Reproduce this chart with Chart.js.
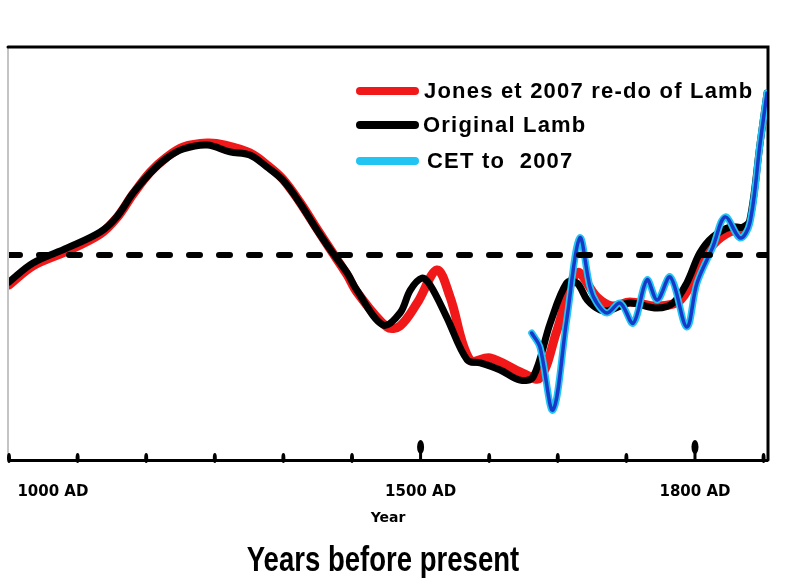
<!DOCTYPE html>
<html>
<head>
<meta charset="utf-8">
<script src="https://cdn.jsdelivr.net/npm/chart.js@4.4.1/dist/chart.umd.min.js"></script>
<style>
  html, body { margin: 0; padding: 0; background: #fff; }
</style>
</head>
<body>
<canvas id="chart" width="800" height="587"></canvas>
<script>
// x is measured in axis tick steps (0..11), y is a relative temperature level
const lambX = [0, 0.35, 0.85, 1.33, 1.57, 1.81, 2.06, 2.30, 2.54, 2.89, 3.22, 3.51, 3.76, 3.99, 4.24, 4.49, 4.72, 4.93, 5.07, 5.45,
    5.70, 5.85, 6.02, 6.14, 6.38, 6.68, 6.87, 7.16, 7.45, 7.64, 7.89, 8.13, 8.28, 8.43, 8.62, 8.76, 9.05, 9.45, 9.68, 9.88,
    10.07, 10.26, 10.51, 10.70, 10.80, 10.95, 11.05];
const lambY = [-0.138, -0.046, 0.027, 0.104, 0.177, 0.293, 0.390, 0.462, 0.506, 0.525, 0.492, 0.477, 0.419, 0.356, 0.245, 0.114, 0.002, -0.094, -0.177, -0.346,
    -0.288, -0.177, -0.119, -0.153, -0.308, -0.516, -0.530, -0.564, -0.613, -0.598, -0.337, -0.143, -0.143, -0.225, -0.274, -0.274, -0.240, -0.264, -0.240, -0.143,
    0.002, 0.080, 0.128, 0.128, 0.162, 0.535, 0.777];

const jonesX = [0, 0.35, 0.85, 1.33, 1.57, 1.81, 2.06, 2.30, 2.54, 2.89, 3.15, 3.51, 3.76, 3.99, 4.24, 4.49, 4.72, 4.93, 5.07, 5.51,
    5.70, 5.95, 6.24, 6.43, 6.72, 7.01, 7.49, 7.74, 7.99, 8.28, 8.57, 8.79, 9.05, 9.45, 9.79, 10.07, 10.26, 10.51, 10.73];
const jonesY = [-0.153, -0.060, 0.012, 0.094, 0.172, 0.288, 0.395, 0.467, 0.516, 0.535, 0.525, 0.487, 0.429, 0.361, 0.249, 0.119, 0.002, -0.104, -0.186, -0.356,
    -0.351, -0.240, -0.080, -0.211, -0.516, -0.506, -0.579, -0.603, -0.370, -0.094, -0.211, -0.254, -0.235, -0.254, -0.225, -0.056, 0.041, 0.104, 0.114];

const cetX = [7.62, 7.74, 7.93, 8.13, 8.32, 8.47, 8.57, 8.72, 8.91, 9.10, 9.30, 9.45, 9.64, 9.88, 10.03, 10.26, 10.44, 10.66, 10.80, 10.95, 11.05];
const cetY = [-0.385, -0.453, -0.758, -0.322, 0.075, -0.162, -0.240, -0.288, -0.240, -0.337, -0.128, -0.225, -0.114, -0.356, -0.143, 0.031, 0.177, 0.075, 0.148, 0.535, 0.777];

const refLevel = -0.007;
const tickLabels = ['1000 AD', '1500 AD', '1800 AD'];
const tickLabelPos = [0.64, 6, 10];
const minorTicks = [0, 1, 2, 3, 4, 5, 7, 8, 9, 11];
const majorTicks = [6, 10];
const legendLabels = ['Jones et 2007 re-do of Lamb', 'Original Lamb', 'CET to  2007'];
const bottomTitle = 'Years before present';

const RED = '#f01818';
const BLACK = '#000000';
const CYAN = '#22c4f2';
const BLUE = '#1838c8';

const pts = (xs, ys) => xs.map((x, i) => ({ x, y: ys[i] }));

const framePlugin = {
    id: 'frame',
    beforeDatasetsDraw(chart) {
        const { ctx, chartArea: a } = chart;
        ctx.save();
        ctx.strokeStyle = '#b0b0b0';
        ctx.lineWidth = 1.5;
        ctx.beginPath();
        ctx.moveTo(a.left - 1, a.top);
        ctx.lineTo(a.left - 1, a.bottom);
        ctx.stroke();
        ctx.strokeStyle = '#000';
        ctx.lineWidth = 3;
        ctx.lineCap = 'round';
        ctx.beginPath();
        ctx.moveTo(a.left - 1, a.top);
        ctx.lineTo(a.right + 1, a.top);
        ctx.lineTo(a.right + 1, a.bottom);
        ctx.stroke();
        ctx.restore();
    },
    afterDraw(chart) {
        const { ctx, chartArea: a } = chart;
        const xs = chart.scales.x;
        ctx.save();
        ctx.fillStyle = '#000';
        minorTicks.forEach(t => {
            const px = xs.getPixelForValue(t);
            ctx.beginPath();
            ctx.ellipse(px, a.bottom - 2, 2, 5, 0, 0, Math.PI * 2);
            ctx.fill();
        });
        majorTicks.forEach(t => {
            const px = xs.getPixelForValue(t);
            ctx.beginPath();
            ctx.ellipse(px, a.bottom - 13, 3.5, 7, 0, 0, Math.PI * 2);
            ctx.fill();
            ctx.fillRect(px - 1.5, a.bottom - 14, 3, 14);
        });
        // big caption under the axis, drawn narrow like the original
        ctx.font = 'bold 34px "Liberation Sans", Arial, sans-serif';
        ctx.textAlign = 'center';
        ctx.textBaseline = 'middle';
        ctx.translate(383, 561);
        ctx.scale(0.81, 1.05);
        ctx.fillText(bottomTitle, 0, 0);
        ctx.restore();
    }
};

const legendPlugin = {
    id: 'sideLegend',
    afterDraw(chart) {
        const { ctx } = chart;
        const colors = [RED, BLACK, CYAN];
        const rows = [91, 125, 161];
        const textX = [424, 423, 427];
        ctx.save();
        ctx.lineCap = 'round';
        ctx.lineWidth = 8;
        ctx.font = 'bold 22px "Liberation Sans", Arial, sans-serif';
        ctx.textBaseline = 'middle';
        ctx.letterSpacing = '1.2px';
        legendLabels.forEach((label, i) => {
            ctx.strokeStyle = colors[i];
            ctx.beginPath();
            ctx.moveTo(360, rows[i]);
            ctx.lineTo(415, rows[i]);
            ctx.stroke();
            ctx.fillStyle = '#000';
            ctx.fillText(label, textX[i], rows[i] + 1);
        });
        ctx.restore();
    }
};

const lineBase = { fill: false, pointRadius: 0, tension: 0.35, borderJoinStyle: 'round', borderCapStyle: 'round' };

new Chart(document.getElementById('chart'), {
    type: 'line',
    data: {
        datasets: [
            { ...lineBase, label: legendLabels[0], data: pts(jonesX, jonesY), borderColor: RED, borderWidth: 9, order: 5 },
            { ...lineBase, label: legendLabels[1], data: pts(lambX, lambY), borderColor: BLACK, borderWidth: 7, order: 4 },
            { ...lineBase, label: 'cet-glow', data: pts(cetX, cetY), borderColor: CYAN, borderWidth: 7, order: 3 },
            { ...lineBase, label: legendLabels[2], data: pts(cetX, cetY), borderColor: BLUE, borderWidth: 3.5, order: 2 },
            { label: 'reference', data: [{ x: 0, y: refLevel }, { x: 11.05, y: refLevel }], borderColor: BLACK,
              borderWidth: 6, borderDash: [11, 19], borderCapStyle: 'round', pointRadius: 0, tension: 0, order: 1 }
        ]
    },
    options: {
        responsive: false,
        animation: false,
        layout: { padding: { left: 9, right: 33, top: 47, bottom: 59 } },
        plugins: {
            legend: { display: false },
            tooltip: { enabled: false }
        },
        scales: {
            x: {
                type: 'linear',
                min: 0,
                max: 11.05,
                border: { display: true, color: '#000', width: 3 },
                grid: { display: false, drawTicks: false },
                afterBuildTicks: axis => { axis.ticks = tickLabelPos.map(v => ({ value: v })); },
                afterFit: axis => {
                    axis.height = 68;
                    axis.paddingLeft = 0;
                    axis.paddingRight = 0;
                },
                ticks: {
                    autoSkip: false,
                    maxRotation: 0,
                    padding: 23,
                    color: '#000',
                    font: { family: '"DejaVu Sans", sans-serif', weight: 'bold', size: 15 },
                    callback: (v, i) => tickLabels[i]
                },
                title: {
                    display: true,
                    text: 'Year',
                    color: '#000',
                    font: { family: '"DejaVu Sans", sans-serif', weight: 'bold', size: 14 },
                    padding: { top: 0, bottom: 1 }
                }
            },
            y: { display: false, min: -1, max: 1 }
        }
    },
    plugins: [framePlugin, legendPlugin]
});
</script>
</body>
</html>
